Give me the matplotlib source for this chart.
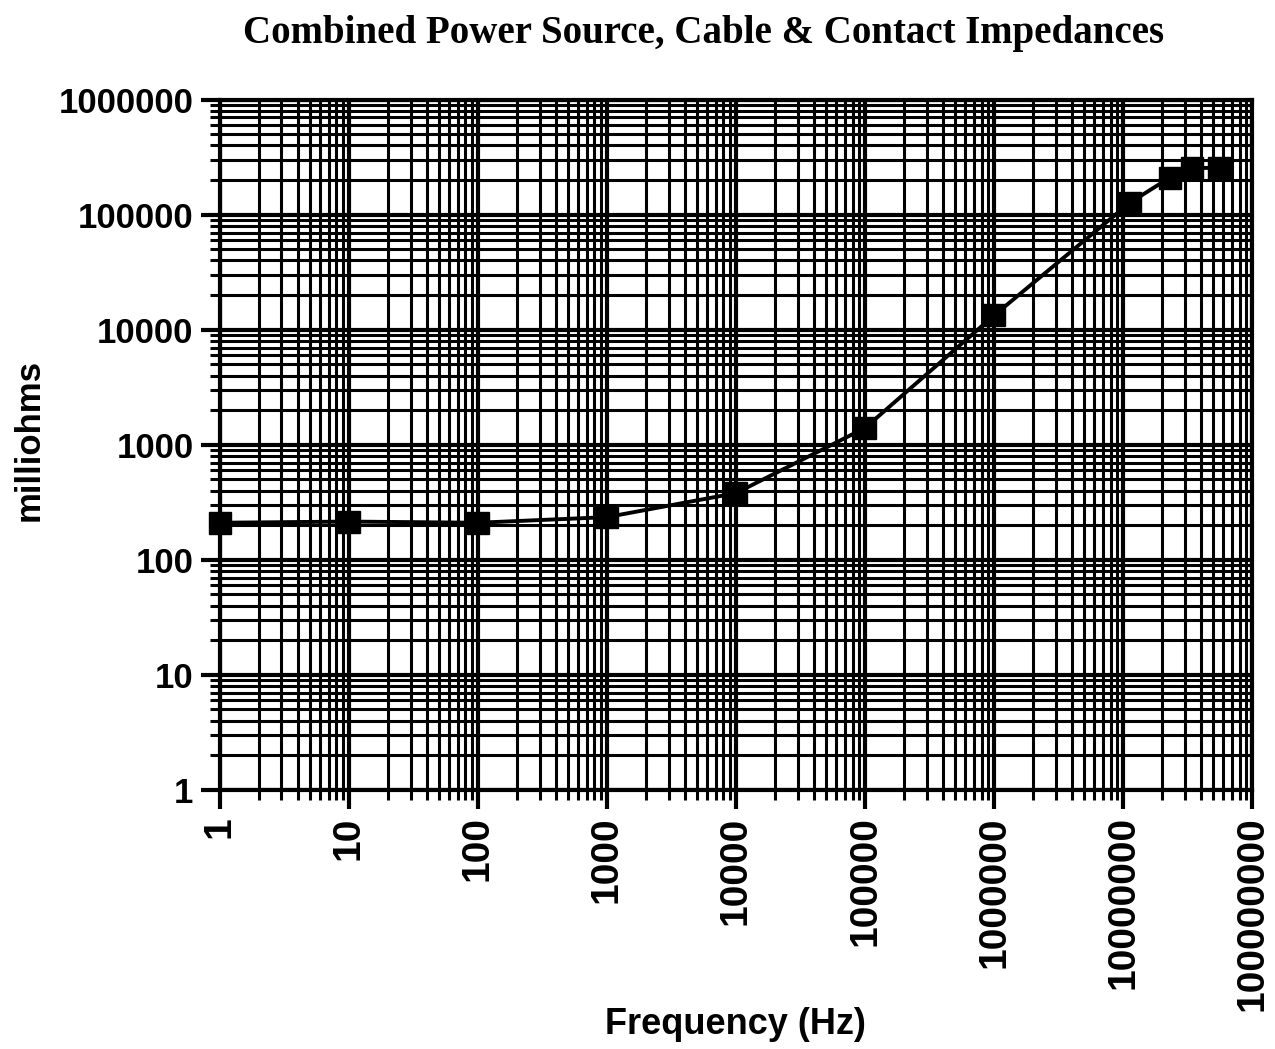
import matplotlib.pyplot as plt
from matplotlib.ticker import LogLocator, FixedLocator, NullFormatter

# frequency (Hz) and impedance (milliohms)
freq_hz = [1, 10, 100, 1000, 10000, 100000, 1000000, 11300000, 23000000, 34000000, 55000000]
imp_mohm = [210, 215, 210, 235, 380, 1400, 13300, 127000, 210000, 255000, 255000]

x_ticks = [1, 10, 100, 1000, 10000, 100000, 1000000, 10000000, 100000000]
x_tick_labels = ["1", "10", "100", "1000", "10000", "100000", "1000000", "10000000", "100000000"]
y_ticks = [1, 10, 100, 1000, 10000, 100000, 1000000]
y_tick_labels = ["1", "10", "100", "1000", "10000", "100000", "1000000"]

fig = plt.figure(figsize=(12.75, 10.49), dpi=100)
ax = fig.add_axes([0.1725, 0.247, 0.8095, 0.658])

ax.set_xscale("log")
ax.set_yscale("log")
ax.set_xlim(1, 1e8)
ax.set_ylim(1, 1e6)

ax.plot(freq_hz, imp_mohm, color="black", lw=2.8, marker="s", ms=16,
        markerfacecolor="black", markeredgecolor="black", zorder=5, clip_on=False)

ax.xaxis.set_major_locator(FixedLocator(x_ticks))
ax.yaxis.set_major_locator(FixedLocator(y_ticks))
ax.xaxis.set_minor_locator(LogLocator(base=10, subs=range(2, 10), numticks=20))
ax.yaxis.set_minor_locator(LogLocator(base=10, subs=range(2, 10), numticks=20))
ax.xaxis.set_minor_formatter(NullFormatter())
ax.yaxis.set_minor_formatter(NullFormatter())

ax.set_xticklabels(x_tick_labels, rotation=90, family="Liberation Sans", weight="bold", size=28)
ax.set_yticklabels(y_tick_labels, family="Liberation Sans", weight="bold", size=25)

ax.grid(which="major", color="black", lw=3.0)
ax.grid(which="minor", color="black", lw=2.2)
ax.tick_params(which="major", direction="out", length=14, width=3.0, color="black", pad=5)
ax.tick_params(which="minor", direction="out", length=7, width=2.2, color="black")
for s in ax.spines.values():
    s.set_linewidth(3.0)
    s.set_color("black")

fig.text(0.577, 1 - 1025 / 1049, "Frequency (Hz)", ha="center", va="center",
         family="Liberation Sans", weight="bold", size=26)
fig.text(0.023, 1 - 440 / 1049, "milliohms", ha="center", va="center", rotation=90,
         family="Liberation Sans", weight="bold", size=25)

fig.text(0.552, 0.968, "Combined Power Source, Cable & Contact Impedances",
         ha="center", va="center", family="Liberation Serif", weight="bold", size=28)

fig.savefig("out.png", dpi=100, facecolor="white")
